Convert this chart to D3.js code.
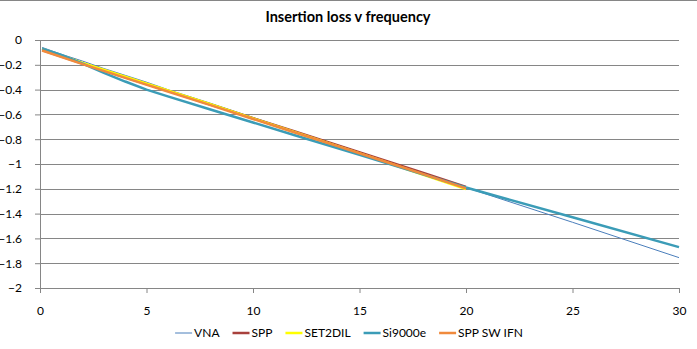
<!DOCTYPE html>
<html>
<head>
<meta charset="utf-8">
<script src="https://cdn.jsdelivr.net/npm/d3@7"></script>
<style>
  body { margin: 0; background: #fff; }
  svg { display: block; font-family: Lato, "Open Sans", sans-serif; }
</style>
</head>
<body>
<svg width="697" height="349"></svg>
<script>
// frequency (GHz) and insertion loss (dB) per measurement
const freq30 = [0.1, 1, 2, 3, 4, 5, 6, 8, 10, 12, 15, 20, 25, 30];
const freq20 = [0.1, 2, 4, 6, 8, 10, 12, 14, 16, 18, 20];

const lossVNA = [-0.06, -0.115, -0.17, -0.23, -0.285, -0.34, -0.4, -0.51, -0.625, -0.74, -0.905, -1.19, -1.47, -1.755];
const lossSPP = [-0.082, -0.19, -0.3, -0.41, -0.52, -0.63, -0.74, -0.85, -0.962, -1.073, -1.185];
const lossSET2DIL = [-0.072, -0.185, -0.295, -0.407, -0.518, -0.632, -0.745, -0.858, -0.972, -1.087, -1.203];
const lossSi9000 = [-0.07, -0.12, -0.19, -0.265, -0.335, -0.4, -0.455, -0.56, -0.665, -0.77, -0.925, -1.19, -1.43, -1.67];
const lossSPPSW = [-0.085, -0.195, -0.305, -0.415, -0.525, -0.637, -0.748, -0.858, -0.97, -1.082, -1.197];

const xTicks = [0, 5, 10, 15, 20, 25, 30];
const yTicks = [0, -0.2, -0.4, -0.6, -0.8, -1, -1.2, -1.4, -1.6, -1.8, -2];

const series = [
  { name: 'VNA', x: freq30, y: lossVNA, color: '#4a7ebb', width: 1 },
  { name: 'SPP', x: freq20, y: lossSPP, color: '#a8403c', width: 2.5 },
  { name: 'SET2DIL', x: freq20, y: lossSET2DIL, color: '#ffff00', width: 2.5 },
  { name: 'Si9000e', x: freq30, y: lossSi9000, color: '#3b9cb7', width: 2.5 },
  { name: 'SPP SW IFN', x: freq20, y: lossSPPSW, color: '#f08a3c', width: 2.5 }
];

const svg = d3.select('svg');
const margin = { top: 40, left: 40 };
const innerWidth = 639;
const innerHeight = 248;
const grey = '#868686';

const x = d3.scaleLinear().domain([0, 30]).range([0, innerWidth]);
const y = d3.scaleLinear().domain([-2, 0]).range([innerHeight, 0]);

// outer frame line along the top
svg.append('line')
  .attr('x1', 0).attr('x2', 697).attr('y1', 0.5).attr('y2', 0.5)
  .attr('stroke', grey);

svg.append('text')
  .attr('x', 348).attr('y', 22)
  .attr('text-anchor', 'middle')
  .attr('font-weight', 'bold')
  .attr('font-size', 14.5)
  .text('Insertion loss v frequency');

const g = svg.append('g')
  .attr('transform', `translate(${margin.left},${margin.top})`);

// horizontal gridlines
g.append('g')
  .selectAll('line')
  .data(yTicks.filter(d => d !== -2))
  .enter().append('line')
    .attr('x1', 0).attr('x2', innerWidth)
    .attr('y1', d => Math.round(y(d)) + 0.5)
    .attr('y2', d => Math.round(y(d)) + 0.5)
    .attr('stroke', grey);

const yAxis = g.append('g')
  .call(d3.axisLeft(y).tickValues(yTicks).tickSize(5).tickPadding(13).tickFormat(d3.format('')))
  .attr('font-size', 12)
  .attr('font-family', 'Lato, sans-serif');
yAxis.select('.domain').attr('stroke', grey);
yAxis.selectAll('.tick line').attr('stroke', grey);
yAxis.selectAll('.tick text').attr('fill', '#000');

const xAxis = g.append('g')
  .attr('transform', `translate(0,${innerHeight})`)
  .call(d3.axisBottom(x).tickValues(xTicks).tickSize(5).tickPadding(13))
  .attr('font-size', 12)
  .attr('font-family', 'Lato, sans-serif');
xAxis.select('.domain').attr('stroke', grey);
xAxis.selectAll('.tick line').attr('stroke', grey);
xAxis.selectAll('.tick text').attr('fill', '#000');

const line = d3.line()
  .x(d => x(d[0]))
  .y(d => y(d[1]));

g.selectAll('.series')
  .data(series)
  .enter().append('path')
    .attr('class', 'series')
    .attr('fill', 'none')
    .attr('stroke', d => d.color)
    .attr('stroke-width', d => d.width)
    .attr('stroke-linejoin', 'round')
    .attr('d', d => line(d.x.map((f, i) => [f, d.y[i]])));

// legend along the bottom, centred
const legend = svg.append('g').attr('transform', 'translate(0,333)');
const items = legend.selectAll('g')
  .data(series)
  .enter().append('g');

items.append('line')
  .attr('x1', 0).attr('x2', 17)
  .attr('stroke', d => d.color)
  .attr('stroke-width', d => Math.max(d.width, 1));

items.append('text')
  .attr('x', 19).attr('y', 4)
  .attr('font-size', 12)
  .text(d => d.name);

const widths = [];
items.each(function() {
  widths.push(19 + this.querySelector('text').getComputedTextLength());
});
const gap = 13;
const total = d3.sum(widths) + gap * (widths.length - 1);
let offset = 349 - total / 2;
items.attr('transform', (d, i) => {
  const pos = offset;
  offset += widths[i] + gap;
  return `translate(${pos},0)`;
});
</script>
</body>
</html>
